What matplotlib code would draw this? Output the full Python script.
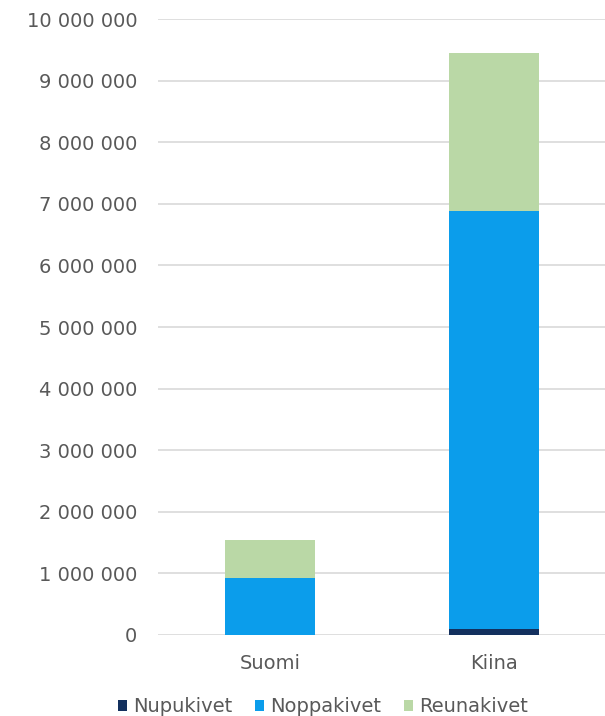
import matplotlib
matplotlib.use("Agg")
import matplotlib.pyplot as plt
import numpy as np
from matplotlib.ticker import FuncFormatter

categories = ["Suomi", "Kiina"]
series_names = ["Nupukivet", "Noppakivet", "Reunakivet"]
nupukivet = [0, 100000]
noppakivet = [920000, 6790000]
reunakivet = [620000, 2560000]
colors = ["#13305E", "#0B9DEB", "#BAD8A6"]

plt.rcParams['font.family'] = ['DejaVu Sans']
fig = plt.figure(figsize=(6.05, 7.16), dpi=100)
ax = fig.add_axes([158/605, 1 - 635/716, (606-158)/605, (635-19)/716])

x = np.arange(len(categories))
w = 0.4
bottom = np.zeros(len(categories))
for name, vals, c in zip(series_names, [nupukivet, noppakivet, reunakivet], colors):
    ax.bar(x, vals, w, bottom=bottom, color=c, label=name, zorder=3)
    bottom += np.array(vals)

ax.set_xlim(-0.5, 1.5)
ax.set_ylim(0, 10000000)
ax.set_yticks(np.arange(0, 10000001, 1000000))
ax.yaxis.set_major_formatter(FuncFormatter(lambda v, p: f"{int(v):,}".replace(",", " ")))
ax.set_xticks(x)
ax.set_xticklabels(categories)
ax.grid(axis='y', color='#D9D9D9', linewidth=1.2, zorder=0)
for s in ax.spines.values():
    s.set_visible(False)
ax.tick_params(axis='y', length=0, labelsize=14, colors='#595959', pad=15)
ax.tick_params(axis='x', length=0, labelsize=14, colors='#595959', pad=14)

handles, labels = ax.get_legend_handles_labels()
leg = fig.legend(handles, labels, loc='lower center', bbox_to_anchor=(0.534, -0.025), ncol=3,
                 frameon=False, fontsize=14, handlelength=0.45, handleheight=0.45,
                 handletextpad=0.3, columnspacing=1.2, labelcolor='#595959')

fig.savefig("out.png", dpi=100)
